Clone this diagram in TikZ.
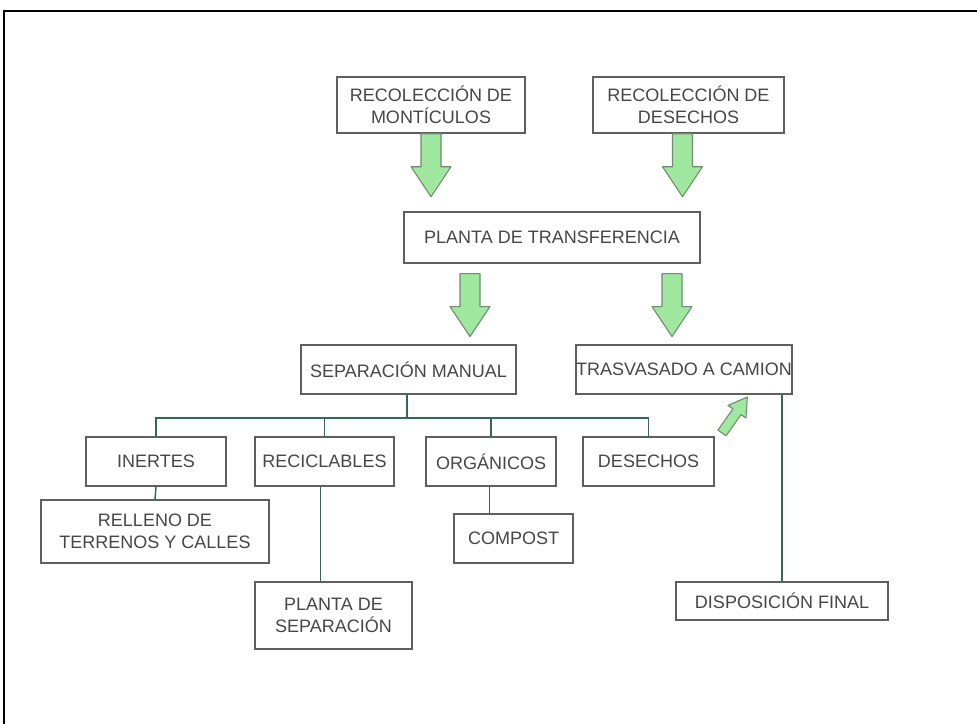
\documentclass[tikz,border=0pt]{standalone}
\usepackage{fontspec}
\setmainfont{Liberation Sans}
\definecolor{lineagreen}{RGB}{52,104,84}
\definecolor{bordegris}{RGB}{95,95,95}
\definecolor{textogris}{RGB}{70,70,70}
\definecolor{flechaverde}{RGB}{160,232,160}
\definecolor{bordeflecha}{RGB}{110,140,110}
\tikzset{
  caja/.style={draw=bordegris, line width=1.1pt, rectangle, inner sep=0pt, align=center,
    text=textogris, font=\fontsize{13.5}{16.5}\selectfont},
  rama/.style={draw=lineagreen, line width=1.1pt},
  relleno/.style={fill=flechaverde, draw=bordeflecha, line width=0.8pt, line join=round},
  flechagrande/.pic={\draw[relleno] (0,-10) -- (33,-10) -- (33,-20) -- (63,0) -- (33,20) -- (33,10) -- (0,10) -- cycle;},
  flechachica/.pic={\draw[relleno] (0,-5) -- (26,-5) -- (26,-11) -- (44,0) -- (26,11) -- (26,5) -- (0,5) -- cycle;}
}
\begin{document}
\begin{tikzpicture}[x=0.75pt,y=0.75pt,yscale=-1,xscale=1]
		\useasboundingbox (0,0) rectangle (977,724);

		%Frame
		\draw [line width=1.5pt] (4,724) -- (4,11) -- (977,11) ;

		% Text Node
		\node [caja, minimum width=141pt, minimum height=42pt] (monticulos) at (431,105) {RECOLECCIÓN DE\\MONTÍCULOS};
		% Text Node
		\node [caja, minimum width=143pt, minimum height=42pt] (desechosrec) at (688.5,105) {RECOLECCIÓN DE\\DESECHOS};
		% Text Node
		\node [caja, minimum width=222pt, minimum height=38pt] (transferencia) at (552,237.5) {PLANTA DE TRANSFERENCIA};
		% Text Node
		\node [caja, minimum width=161pt, minimum height=37pt] (manual) at (408.5,369.5) {SEPARACIÓN MANUAL};
		% Text Node
		\node [caja, minimum width=162pt, minimum height=37pt] (camion) at (684,369.5) {TRASVASADO A CAMION};
		% Text Node
		\node [caja, minimum width=105pt, minimum height=37pt] (inertes) at (156,461.5) {INERTES};
		% Text Node
		\node [caja, minimum width=104pt, minimum height=37pt] (reciclables) at (324.5,461.5) {RECICLABLES};
		% Text Node
		\node [caja, minimum width=97.5pt, minimum height=37pt] (organicos) at (491,461.5) {ORGÁNICOS};
		% Text Node
		\node [caja, minimum width=98pt, minimum height=37pt] (desechos) at (648.5,461.5) {DESECHOS};
		% Text Node
		\node [caja, minimum width=171pt, minimum height=47pt] (terrenos) at (155,531.5) {RELLENO DE\\TERRENOS Y CALLES};
		% Text Node
		\node [caja, minimum width=118pt, minimum height=50pt] (plantasep) at (333.5,615.5) {PLANTA DE\\SEPARACIÓN};
		% Text Node
		\node [caja, minimum width=89pt, minimum height=37pt] (compost) at (513.5,538.5) {COMPOST};
		% Text Node
		\node [caja, minimum width=159pt, minimum height=28.5pt] (final) at (782,601) {DISPOSICIÓN FINAL};

		%Block Arrows
		\pic [rotate=-90] at (monticulos.south) {flechagrande};
		\pic [rotate=-90] at ([xshift=-4.5]desechosrec.south) {flechagrande};
		\pic [rotate=-90] at ([xshift=-61.5,yshift=7.5]transferencia.south) {flechagrande};
		\pic [rotate=-90] at ([xshift=90,yshift=7.5]transferencia.south) {flechagrande};
		\pic [rotate=54.8] at ([xshift=55.1,yshift=-21.4]desechos.center) {flechachica};

		%Tree Lines
		\coordinate (bus) at (407,418);
		\draw [rama] (manual.south -| bus) -- (bus) ;
		\draw [rama] (inertes.north) -- (inertes.north |- bus) -- (desechos.north |- bus) -- (desechos.north) ;
		\draw [rama] (reciclables.north) -- (reciclables.north |- bus) ;
		\draw [rama] (organicos.north) -- (organicos.north |- bus) ;
		\draw [rama] (inertes.south) -- (terrenos.north) ;
		\draw [rama] ([xshift=-3]reciclables.south) -- ([xshift=-3]reciclables.south |- plantasep.north) ;
		\draw [rama] ([xshift=-1]organicos.south) -- ([xshift=-1]organicos.south |- compost.north) ;
		\draw [rama] (final.north) -- (final.north |- camion.south) ;
\end{tikzpicture}
\end{document}
